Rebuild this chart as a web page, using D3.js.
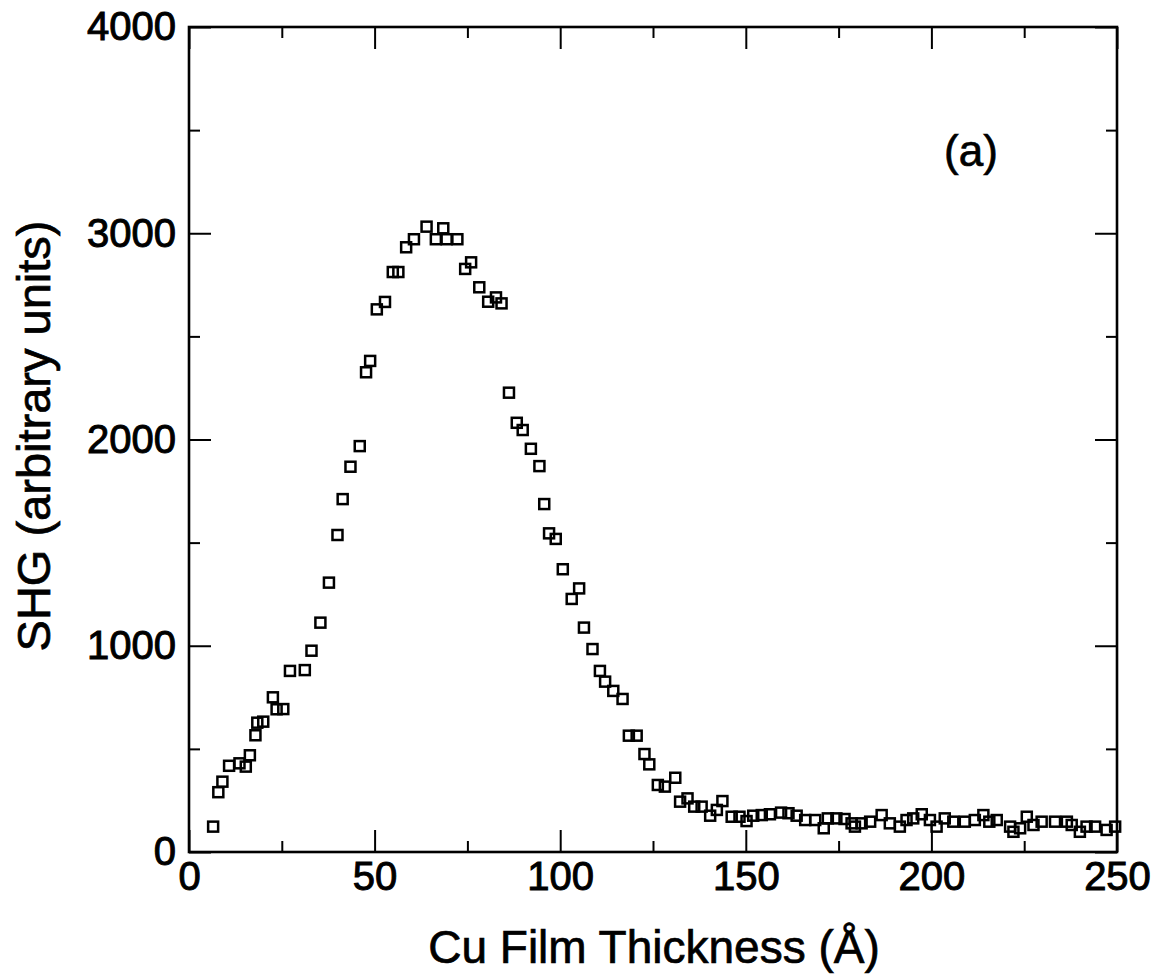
<!DOCTYPE html>
<html>
<head>
<meta charset="utf-8">
<script src="https://cdn.jsdelivr.net/npm/d3@7"></script>
<style>
  html, body { margin: 0; padding: 0; background: #fff; }
  svg { display: block; }
  text { font-family: "Liberation Sans", Arial, Helvetica, sans-serif; fill: #000; }
</style>
</head>
<body>
<svg id="chart" width="1159" height="980"></svg>
<script>
// ---- data ----
const thickness = [
  6.5, 7.9, 9.0, 10.8, 13.6, 15.3, 16.4, 17.9, 18.4, 20.0,
  22.6, 23.6, 25.4, 27.2, 31.2, 33.0, 35.4, 37.7, 40.0, 41.4,
  43.5, 46.0, 47.7, 48.8, 50.6, 52.8, 54.9, 56.4, 58.5, 60.6,
  64.0, 66.5, 68.5, 69.4, 72.3, 74.4, 76.0, 78.2, 80.6, 82.7,
  84.2, 86.2, 88.3, 89.9, 92.1, 94.4, 95.7, 97.0, 98.8, 100.7,
  103.1, 105.1, 106.4, 108.7, 110.7, 112.1, 114.3, 116.8, 118.5, 120.6,
  122.7, 124.0, 126.3, 128.2, 131.0, 132.3, 134.3, 136.1, 138.1, 140.4,
  142.2, 143.7, 146.2, 148.3, 150.2, 152.0, 154.3, 156.5, 159.5, 161.5,
  163.7, 166.0, 168.7, 171.0, 172.1, 174.4, 176.6, 178.5, 179.4, 181.2,
  183.5, 186.6, 188.8, 191.5, 193.3, 195.1, 197.4, 199.6, 201.4, 203.6,
  205.9, 209.0, 211.7, 214.0, 215.6, 217.6, 221.2, 222.1, 223.9, 225.7,
  227.5, 229.7, 233.3, 236.5, 237.8, 240.0, 241.8, 244.1, 247.2, 249.5
];
const shg = [
  123, 290, 341, 418, 430, 414, 469, 566, 627, 632,
  750, 692, 693, 878, 882, 976, 1112, 1306, 1537, 1711,
  1868, 1968, 2326, 2381, 2631, 2667, 2812, 2812, 2932, 2971,
  3032, 2971, 3024, 2971, 2971, 2827, 2859, 2738, 2668, 2689,
  2660, 2227, 2081, 2046, 1955, 1871, 1687, 1545, 1518, 1371,
  1227, 1278, 1088, 984, 878, 826, 781, 742, 564, 564,
  475, 425, 325, 317, 360, 244, 260, 220, 220, 176,
  204, 247, 171, 171, 150, 176, 179, 183, 191, 188,
  176, 155, 155, 115, 163, 163, 160, 139, 123, 139,
  147, 179, 139, 123, 155, 163, 183, 155, 123, 163,
  147, 147, 155, 179, 147, 155, 123, 98, 115, 171,
  131, 147, 147, 147, 131, 98, 123, 123, 107, 123
];
const xMajorTicks = [0, 50, 100, 150, 200, 250];
const xMinorTicks = [25, 75, 125, 175, 225];
const yMajorTicks = [0, 1000, 2000, 3000, 4000];
const yMinorTicks = [500, 1500, 2500, 3500];
const xTitle = "Cu Film Thickness (Å)";
const yTitle = "SHG (arbitrary units)";
const panelLabel = "(a)";

// ---- layout ----
const mLeft = 189, mRight = 1117, mTop = 27, mBottom = 852;
const W = mRight - mLeft, H = mBottom - mTop;
const svg = d3.select("#chart");
const g = svg.append("g").attr("transform", `translate(${mLeft},${mTop})`);

const x = d3.scaleLinear().domain([0, 250]).range([0, W]);
const y = d3.scaleLinear().domain([0, 4000]).range([H, 0]);

const majorLen = 22, minorLen = 11;
const tickStroke = 2;

function styleAxis(sel) {
  sel.select(".domain").remove();
  sel.selectAll(".tick line").attr("stroke", "#000").attr("stroke-width", tickStroke);
}

// bottom
g.append("g").attr("transform", `translate(0,${H})`)
  .call(d3.axisBottom(x).tickValues(xMajorTicks).tickSize(-majorLen).tickSizeOuter(0).tickPadding(10).tickFormat(d3.format("d")))
  .call(styleAxis)
  .call(s => s.selectAll("text").attr("font-size", 40).attr("stroke", "#000").attr("stroke-width", 1));
g.append("g").attr("transform", `translate(0,${H})`)
  .call(d3.axisBottom(x).tickValues(xMinorTicks).tickSize(-minorLen).tickSizeOuter(0).tickFormat(""))
  .call(styleAxis);
// top
g.append("g")
  .call(d3.axisTop(x).tickValues(xMajorTicks).tickSize(-majorLen).tickSizeOuter(0).tickFormat(""))
  .call(styleAxis);
g.append("g")
  .call(d3.axisTop(x).tickValues(xMinorTicks).tickSize(-minorLen).tickSizeOuter(0).tickFormat(""))
  .call(styleAxis);
// left
g.append("g")
  .call(d3.axisLeft(y).tickValues(yMajorTicks).tickSize(-majorLen).tickSizeOuter(0).tickPadding(13).tickFormat(d3.format("d")))
  .call(styleAxis)
  .call(s => s.selectAll("text").attr("font-size", 40).attr("stroke", "#000").attr("stroke-width", 1));
g.append("g")
  .call(d3.axisLeft(y).tickValues(yMinorTicks).tickSize(-minorLen).tickSizeOuter(0).tickFormat(""))
  .call(styleAxis);
// right
g.append("g").attr("transform", `translate(${W},0)`)
  .call(d3.axisRight(y).tickValues(yMajorTicks).tickSize(-majorLen).tickSizeOuter(0).tickFormat(""))
  .call(styleAxis);
g.append("g").attr("transform", `translate(${W},0)`)
  .call(d3.axisRight(y).tickValues(yMinorTicks).tickSize(-minorLen).tickSizeOuter(0).tickFormat(""))
  .call(styleAxis);

// frame
g.append("rect").attr("x", 0).attr("y", 0).attr("width", W).attr("height", H)
  .attr("fill", "none").attr("stroke", "#000").attr("stroke-width", 2.6);

// data markers: open squares
const data = thickness.map((t, i) => ({ t, v: shg[i] }));
const s = 10;
g.append("g").selectAll("rect.pt").data(data).join("rect")
  .attr("class", "pt")
  .attr("x", d => x(d.t) - s / 2)
  .attr("y", d => y(d.v) - s / 2)
  .attr("width", s).attr("height", s)
  .attr("fill", "none").attr("stroke", "#000").attr("stroke-width", 2.5);

// titles
svg.append("text").attr("x", (mLeft + mRight) / 2 + 1).attr("y", 963)
  .attr("text-anchor", "middle").attr("font-size", 46)
  .attr("stroke", "#000").attr("stroke-width", 0.7)
  .text(xTitle);
svg.append("text").attr("transform", "translate(50,436) rotate(-90)")
  .attr("text-anchor", "middle").attr("font-size", 47)
  .attr("stroke", "#000").attr("stroke-width", 0.7)
  .text(yTitle);
svg.append("text").attr("x", 971).attr("y", 166)
  .attr("text-anchor", "middle").attr("font-size", 44)
  .attr("stroke", "#000").attr("stroke-width", 0.7)
  .text(panelLabel);
</script>
</body>
</html>
